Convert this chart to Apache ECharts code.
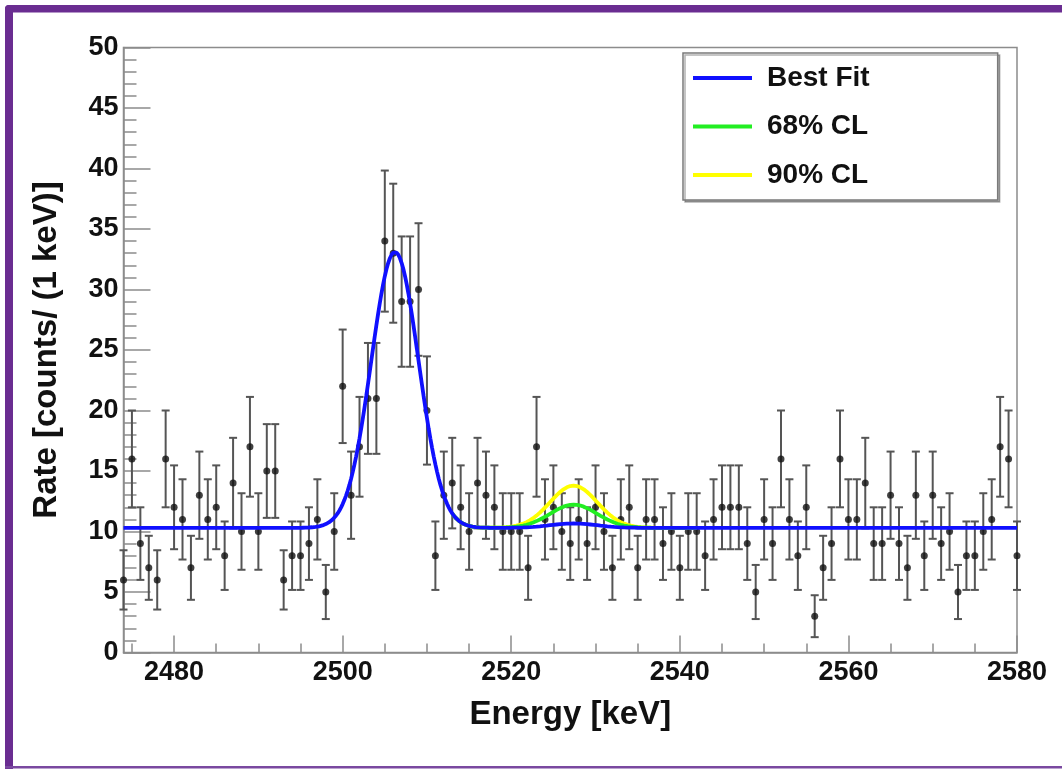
<!DOCTYPE html>
<html>
<head>
<meta charset="utf-8">
<script src="https://cdn.jsdelivr.net/npm/echarts@6/dist/echarts.min.js"></script>
<style>
html,body{margin:0;padding:0;background:#fff;}
#chart{width:1062px;height:769px;}
</style>
</head>
<body>
<div id="chart"></div>
<script>
// ---- data ----
const energies = [2474,2475,2476,2477,2478,2479,2480,2481,2482,2483,2484,2485,2486,2487,2488,2489,2490,
  2491,2492,2493,2494,2495,2496,2497,2498,2499,2500,2501,2502,2503,2504,2505,2506,2507,2508,2509,2510,
  2511,2512,2513,2514,2515,2516,2517,2518,2519,2520,2521,2522,2523,2524,2525,2526,2527,2528,2529,2530,
  2531,2532,2533,2534,2535,2536,2537,2538,2539,2540,2541,2542,2543,2544,2545,2546,2547,2548,2549,2550,
  2551,2552,2553,2554,2555,2556,2557,2558,2559,2560,2561,2562,2563,2564,2565,2566,2567,2568,2569,2570,
  2571,2572,2573,2574,2575,2576,2577,2578,2579,2580];
const counts = [6,16,9,7,6,16,12,11,7,13,11,12,8,14,10,17,10,
  15,15,6,8,8,9,11,5,10,22,13,17,21,21,34,33,29,29,30,20,
  8,13,14,12,10,14,13,12,10,10,10,7,17,11,12,10,9,11,9,12,
  10,7,11,12,7,11,11,9,10,7,10,10,8,11,12,12,12,9,5,11,
  9,16,11,8,12,3,7,9,16,11,11,14,9,9,13,9,7,13,8,13,
  9,10,5,8,8,10,11,17,16,8];

// fit model parameters (flat background + calibration peak + signal peak)
const fitNames = ['Best Fit', '68% CL', '90% CL'];
const fitColors = ['#1010ff', '#22ee22', '#ffff00'];
const signalAmplitudes = [0.36, 1.92, 3.49];
const background = 10.3;
const peakMean = 2506.2, peakAmplitude = 22.8, peakSigma = 2.8;
const signalMean = 2527.4, signalSigma = 2.8;

const xMajorTicks = [2480, 2500, 2520, 2540, 2560, 2580];
const xMinorTicks = [2475,2485,2490,2495,2505,2510,2515,2525,2530,2535,2545,2550,2555,2565,2570,2575];
const xMin = 2474, xMax = 2580;

// ---- build series data ----
const pointData = energies.map((e, i) => [e, counts[i]]);
const errData = energies.map((e, i) => {
  const s = Math.sqrt(counts[i]);
  return [e, counts[i], counts[i] - s, counts[i] + s];
});
function model(e, amp) {
  const a = (e - peakMean) / peakSigma;
  const b = (e - signalMean) / signalSigma;
  return background + peakAmplitude * Math.exp(-0.5 * a * a) + amp * Math.exp(-0.5 * b * b);
}
function curve(amp, from, to) {
  const out = [];
  for (let k = Math.round(from * 10); k <= Math.round(to * 10); k += 2) {
    const e = k / 10;
    out.push([e, model(e, amp)]);
  }
  return out;
}

const FONT = 'Liberation Sans';
const TXT = '#111111';
const chart = echarts.init(document.getElementById('chart'), null, {renderer: 'canvas'});

const lineSeries = [];
// draw 90% first, then 68%, Best Fit on top
[2, 1, 0].forEach((idx, order) => {
  const from = idx === 0 ? xMin : 2513;
  const to = idx === 0 ? xMax : 2542;
  lineSeries.push({
    type: 'line',
    name: fitNames[idx],
    xAxisIndex: 0, yAxisIndex: 0,
    data: curve(signalAmplitudes[idx], from, to),
    showSymbol: false,
    symbol: 'none',
    smooth: false,
    color: fitColors[idx],
    lineStyle: {color: fitColors[idx], width: 3.8},
    z: 5 + order,
    silent: true,
    animation: false
  });
});

const option = {
  animation: false,
  backgroundColor: '#ffffff',
  grid: {
    left: 123.5, right: 45, top: 47.5, bottom: 116.5,
    show: true, borderColor: '#8c8c8c', borderWidth: 1.5, backgroundColor: '#ffffff',
    containLabel: false, outerBoundsMode: 'none'
  },
  legend: {
    data: fitNames,
    orient: 'vertical',
    left: 683, top: 53,
    backgroundColor: '#ffffff',
    borderColor: '#7a7a7a', borderWidth: 1.5,
    shadowColor: 'rgba(0,0,0,0.3)', shadowOffsetX: 2, shadowOffsetY: 2, shadowBlur: 0,
    padding: [10, 128, 10, 10],
    icon: 'rect',
    itemWidth: 59, itemHeight: 4,
    itemGap: 18.5,
    selectedMode: false,
    textStyle: {fontFamily: FONT, fontWeight: 'bold', fontSize: 28, color: TXT,
      lineHeight: 30, padding: [0, 0, 0, 10]}
  },
  xAxis: [{
    type: 'value', min: xMin, max: xMax,
    name: 'Energy [keV]', nameLocation: 'middle', nameGap: 46,
    nameTextStyle: {fontFamily: FONT, fontWeight: 'bold', fontSize: 33, color: TXT},
    axisLine: {show: true, lineStyle: {color: '#8c8c8c', width: 1.5}},
    axisTick: {show: true, inside: true, length: 17, customValues: xMajorTicks,
      lineStyle: {color: '#8c8c8c', width: 1.5}},
    axisLabel: {show: true, customValues: xMajorTicks, margin: 7,
      formatter: function (v) { return String(v); },
      fontFamily: FONT, fontWeight: 'bold', fontSize: 27, color: TXT},
    splitLine: {show: false}
  }, {
    type: 'value', min: xMin, max: xMax, position: 'bottom',
    axisLine: {show: false},
    axisTick: {show: true, inside: true, length: 9, customValues: xMinorTicks,
      lineStyle: {color: '#8c8c8c', width: 1.5}},
    axisLabel: {show: false},
    splitLine: {show: false}
  }],
  yAxis: {
    type: 'value', min: 0, max: 50, interval: 5,
    name: 'Rate [counts/ (1 keV)]', nameLocation: 'middle', nameGap: 60, nameRotate: 90,
    nameTextStyle: {fontFamily: FONT, fontWeight: 'bold', fontSize: 33, color: TXT},
    axisLine: {show: true, lineStyle: {color: '#8c8c8c', width: 1.5}},
    axisTick: {show: true, inside: true, length: 27, lineStyle: {color: '#8c8c8c', width: 1.5}},
    minorTick: {show: true, splitNumber: 5, length: 13, lineStyle: {color: '#8c8c8c', width: 1.5}},
    axisLabel: {margin: 5, formatter: function (v) { return String(v); },
      fontFamily: FONT, fontWeight: 'bold', fontSize: 27, color: TXT},
    splitLine: {show: false}
  },
  series: [{
    type: 'custom',
    name: 'errors',
    xAxisIndex: 0, yAxisIndex: 0,
    data: errData,
    clip: false,
    z: 2,
    silent: true,
    renderItem: function (params, api) {
      const x = api.value(0), lo = api.value(2), hi = api.value(3);
      const pLo = api.coord([x, lo]);
      const pHi = api.coord([x, hi]);
      const cap = 4;
      const st = {stroke: '#555555', lineWidth: 2};
      return {type: 'group', children: [
        {type: 'line', shape: {x1: pLo[0], y1: pLo[1], x2: pHi[0], y2: pHi[1]}, style: st},
        {type: 'line', shape: {x1: pLo[0] - cap, y1: pLo[1], x2: pLo[0] + cap, y2: pLo[1]}, style: st},
        {type: 'line', shape: {x1: pHi[0] - cap, y1: pHi[1], x2: pHi[0] + cap, y2: pHi[1]}, style: st}
      ]};
    }
  }, {
    type: 'scatter',
    name: 'data',
    xAxisIndex: 0, yAxisIndex: 0,
    data: pointData,
    symbol: 'circle', symbolSize: 7,
    itemStyle: {color: '#111111'},
    clip: false,
    z: 3,
    silent: true
  }].concat(lineSeries),
  graphic: [
    {type: 'rect', shape: {x: 5, y: 5, width: 1057, height: 7.5, r: [4, 0, 0, 0]}, style: {fill: '#6a2d91'}, z: 100},
    {type: 'rect', shape: {x: 5, y: 5, width: 8, height: 764, r: [4, 0, 0, 0]}, style: {fill: '#6a2d91'}, z: 100},
    {type: 'rect', shape: {x: 5, y: 766, width: 1057, height: 2.5}, style: {fill: '#7a49a0'}, z: 100}
  ]
};
chart.setOption(option);
</script>
</body>
</html>
